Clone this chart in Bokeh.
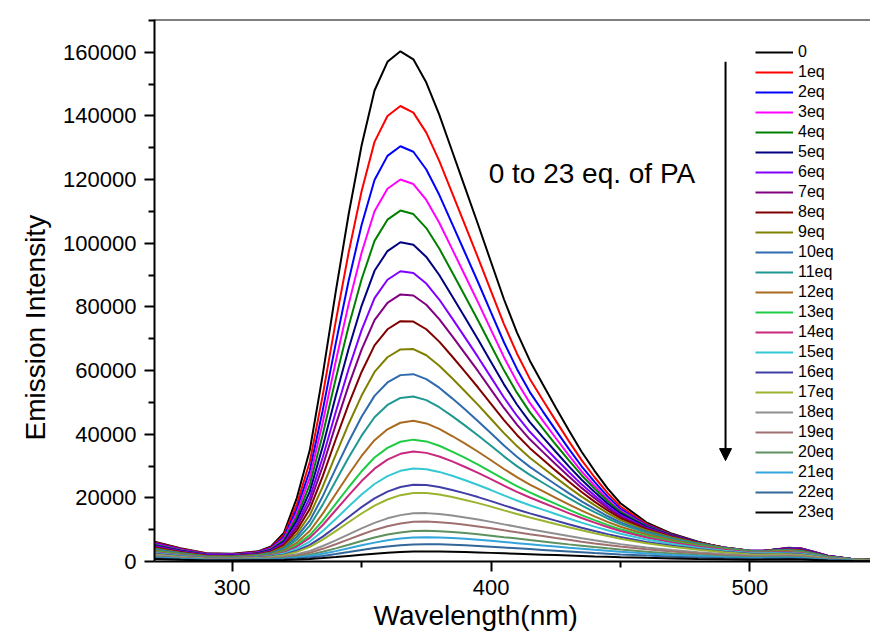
from bokeh.plotting import figure
from bokeh.models import (FixedTicker, BasicTickFormatter, Legend, LegendItem,
                          Arrow, NormalHead, Label, Span, Range1d, Title)
from bokeh.embed import file_html
from bokeh.resources import INLINE

wavelength = [270, 280, 290, 300, 310, 315, 320, 325, 330, 335, 340, 345, 350, 355, 360,
              365, 370, 375, 380, 385, 390, 395, 400, 405, 410, 415, 420, 425, 430, 435,
              440, 445, 450, 460, 470, 480, 490, 500, 505, 510, 515, 520, 525, 530, 540, 550]

eq0 = [6200, 4200, 2600, 2400, 3200, 4700, 9000, 20000, 35000, 58700, 84700, 109100, 130700, 148000, 157000, 160300, 157800, 150500, 140400, 128900, 117400, 105900, 94100, 82400, 72000, 63100, 55700, 48400, 41300, 34500, 28500, 23000, 18300, 12300, 8700, 6200, 4100, 3000, 3100, 3800, 4300, 4100, 3000, 1800, 700, 400]
eq1 = [5960, 4040, 2500, 2310, 3040, 4460, 8260, 18040, 31330, 52280, 75350, 97080, 116340, 131850, 140000, 143120, 141050, 134750, 125900, 115760, 105600, 95420, 84960, 74600, 65370, 57370, 50750, 44260, 37910, 31850, 26470, 21530, 17270, 11810, 8460, 6100, 4180, 3110, 3180, 3820, 4270, 4050, 2980, 1800, 710, 400]
eq2 = [5730, 3880, 2400, 2220, 2910, 4220, 7670, 16520, 28590, 47550, 68470, 88190, 105740, 119900, 127450, 130460, 128750, 123160, 115220, 106100, 96930, 87740, 78260, 68890, 60510, 53230, 47190, 41270, 35460, 29920, 25000, 20460, 16540, 11470, 8300, 6040, 4210, 3180, 3230, 3810, 4220, 3980, 2930, 1780, 720, 410]
eq3 = [5490, 3720, 2300, 2130, 2790, 4010, 7180, 15270, 26320, 43650, 62770, 80870, 97000, 110060, 117130, 120030, 118610, 113610, 106430, 98150, 89800, 81420, 72770, 64200, 56510, 49830, 44260, 38800, 33450, 28340, 23790, 19580, 15950, 11180, 8170, 6000, 4240, 3220, 3250, 3780, 4150, 3900, 2880, 1760, 720, 410]
eq4 = [5260, 3560, 2200, 2040, 2680, 3820, 6730, 14090, 24160, 39910, 57340, 73890, 88690, 100740, 107400, 110260, 109160, 104770, 98340, 90880, 83320, 75720, 67870, 60060, 53050, 46930, 41800, 36760, 31830, 27110, 22890, 19000, 15610, 11100, 8200, 6080, 4350, 3320, 3320, 3790, 4120, 3850, 2840, 1760, 730, 420]
eq5 = [5020, 3400, 2110, 1940, 2570, 3620, 6270, 12890, 21990, 36170, 51900, 66870, 80340, 91340, 97540, 100320, 99520, 95700, 90010, 83360, 76590, 69760, 62700, 55660, 49330, 43770, 39090, 34490, 29980, 25670, 21810, 18230, 15100, 10880, 8110, 6070, 4400, 3380, 3350, 3770, 4050, 3770, 2800, 1750, 740, 420]
eq6 = [4790, 3240, 2010, 1850, 2450, 3410, 5820, 11780, 19990, 32750, 46920, 60470, 72700, 82740, 88520, 91200, 90650, 87340, 82310, 76380, 70330, 64200, 57860, 51520, 45800, 40760, 36490, 32300, 28180, 24240, 20700, 17420, 14540, 10590, 7960, 5990, 4390, 3380, 3350, 3710, 3970, 3680, 2740, 1710, 730, 420]
eq7 = [4550, 3080, 1910, 1760, 2330, 3240, 5450, 10880, 18370, 29990, 42930, 55330, 66580, 75840, 81290, 83910, 83570, 80670, 76160, 70830, 65340, 59790, 54010, 48240, 43010, 38390, 34440, 30570, 26770, 23130, 19850, 16790, 14110, 10380, 7850, 5930, 4390, 3390, 3340, 3660, 3880, 3580, 2660, 1680, 720, 410]
eq8 = [4320, 2920, 1810, 1670, 2220, 3050, 5030, 9850, 16530, 26840, 38340, 49430, 59550, 67920, 72970, 75510, 75400, 72970, 69080, 64410, 59580, 54670, 49560, 44430, 39760, 35620, 32060, 28550, 25110, 21820, 18830, 16060, 13600, 10120, 7710, 5870, 4370, 3390, 3330, 3590, 3780, 3470, 2600, 1640, 720, 410]
eq9 = [4080, 2760, 1710, 1580, 2100, 2850, 4600, 8770, 14600, 23520, 33520, 43210, 52130, 59570, 64180, 66620, 66740, 64800, 61530, 57570, 53430, 49200, 44780, 40330, 36260, 32620, 29470, 26360, 23300, 20370, 17700, 15210, 13000, 9800, 7530, 5780, 4350, 3390, 3310, 3530, 3690, 3380, 2520, 1610, 710, 400]
eq10 = [3840, 2600, 1610, 1490, 1970, 2650, 4180, 7780, 12840, 20530, 29180, 37640, 45470, 52040, 56250, 58560, 58860, 57320, 54610, 51260, 47730, 44100, 40300, 36440, 32900, 29720, 26930, 24190, 21480, 18890, 16520, 14290, 12310, 9370, 7260, 5610, 4250, 3330, 3240, 3440, 3560, 3250, 2440, 1570, 690, 400]
eq11 = [3610, 2440, 1510, 1400, 1860, 2470, 3800, 6900, 11270, 17870, 25320, 32660, 39530, 45340, 49190, 51410, 51870, 50700, 48480, 45690, 42690, 39600, 36360, 33040, 29970, 27200, 24740, 22310, 19920, 17620, 15500, 13520, 11740, 9040, 7040, 5470, 4190, 3280, 3180, 3340, 3430, 3130, 2350, 1520, 680, 390]
eq12 = [3370, 2280, 1410, 1310, 1740, 2270, 3410, 5950, 9590, 15030, 21210, 27350, 33160, 38120, 41540, 43600, 44200, 43390, 41670, 39430, 37020, 34490, 31820, 29070, 26530, 24180, 22090, 20020, 17960, 16000, 14180, 12460, 10910, 8500, 6670, 5210, 4030, 3180, 3080, 3200, 3280, 2970, 2240, 1450, 650, 380]
eq13 = [3140, 2130, 1320, 1210, 1620, 2090, 3060, 5210, 8300, 12860, 18100, 23330, 28340, 32660, 35710, 37630, 38290, 37740, 36370, 34550, 32530, 30430, 28190, 25880, 23710, 21700, 19880, 18090, 16300, 14590, 12990, 11490, 10110, 7950, 6280, 4940, 3830, 3040, 2930, 3030, 3100, 2800, 2110, 1370, 620, 350]
eq14 = [2900, 1970, 1220, 1120, 1490, 1930, 2800, 4700, 7430, 11460, 16100, 20770, 25270, 29160, 32000, 33830, 34540, 34130, 33000, 31440, 29690, 27850, 25880, 23830, 21900, 20120, 18470, 16830, 15220, 13670, 12210, 10850, 9590, 7560, 5990, 4710, 3660, 2900, 2790, 2880, 2920, 2640, 1990, 1290, 600, 340]
eq15 = [2670, 1810, 1120, 1030, 1370, 1750, 2480, 4030, 6280, 9570, 13380, 17260, 21030, 24350, 26830, 28490, 29220, 29000, 28150, 26940, 25540, 24050, 22450, 20770, 19180, 17680, 16290, 14910, 13530, 12220, 10970, 9800, 8700, 6920, 5510, 4360, 3410, 2710, 2610, 2670, 2710, 2440, 1850, 1200, 550, 310]
eq16 = [2430, 1650, 1020, 940, 1250, 1560, 2160, 3380, 5210, 7810, 10860, 13990, 17080, 19810, 21940, 23400, 24110, 24030, 23410, 22490, 21410, 20240, 18970, 17630, 16360, 15130, 13980, 12850, 11700, 10620, 9590, 8600, 7690, 6160, 4930, 3910, 3090, 2470, 2380, 2440, 2480, 2230, 1690, 1100, 500, 290]
eq17 = [2190, 1490, 920, 850, 1130, 1420, 1950, 3030, 4610, 6890, 9560, 12330, 15080, 17530, 19480, 20840, 21550, 21530, 21050, 20270, 19350, 18340, 17240, 16070, 14940, 13850, 12830, 11800, 10780, 9810, 8870, 7990, 7150, 5740, 4600, 3660, 2890, 2300, 2210, 2260, 2270, 2050, 1550, 1020, 470, 270]
eq18 = [1960, 1330, 820, 760, 980, 1180, 1550, 2270, 3340, 4860, 6640, 8530, 10430, 12150, 13560, 14570, 15130, 15200, 14920, 14440, 13840, 13180, 12450, 11670, 10900, 10160, 9440, 8730, 8010, 7330, 6670, 6040, 5460, 4430, 3590, 2890, 2320, 1880, 1840, 1900, 1940, 1760, 1320, 860, 390, 230]
eq19 = [1720, 1170, 720, 670, 860, 1030, 1330, 1900, 2770, 3980, 5420, 6950, 8500, 9920, 11100, 11970, 12470, 12560, 12370, 12000, 11530, 11000, 10430, 9800, 9180, 8580, 7990, 7390, 6810, 6240, 5690, 5180, 4680, 3830, 3110, 2510, 2020, 1640, 1600, 1670, 1700, 1540, 1160, 750, 340, 190]
eq20 = [1490, 1010, 620, 580, 740, 870, 1100, 1520, 2160, 3060, 4130, 5280, 6460, 7530, 8460, 9140, 9560, 9650, 9530, 9270, 8930, 8550, 8120, 7650, 7200, 6730, 6290, 5840, 5380, 4960, 4540, 4140, 3750, 3080, 2520, 2050, 1660, 1370, 1340, 1400, 1430, 1300, 980, 630, 290, 170]
eq21 = [1250, 850, 530, 480, 620, 730, 900, 1230, 1740, 2430, 3260, 4160, 5090, 5930, 6670, 7230, 7570, 7650, 7560, 7370, 7110, 6820, 6490, 6130, 5770, 5410, 5050, 4700, 4340, 4010, 3680, 3360, 3050, 2510, 2070, 1690, 1370, 1130, 1120, 1170, 1200, 1090, 820, 520, 240, 140]
eq22 = [1020, 690, 430, 390, 490, 560, 690, 920, 1270, 1750, 2340, 2960, 3620, 4220, 4730, 5130, 5380, 5440, 5390, 5260, 5080, 4870, 4650, 4400, 4140, 3890, 3640, 3390, 3140, 2900, 2660, 2450, 2230, 1850, 1520, 1250, 1040, 860, 860, 910, 950, 860, 640, 420, 180, 110]
eq23 = [780, 530, 330, 300, 370, 410, 480, 610, 800, 1070, 1390, 1750, 2110, 2450, 2740, 2970, 3110, 3150, 3120, 3050, 2950, 2840, 2710, 2570, 2430, 2290, 2150, 2010, 1870, 1740, 1600, 1480, 1360, 1140, 960, 800, 680, 580, 590, 640, 680, 630, 470, 300, 130, 70]

series = [eq0, eq1, eq2, eq3, eq4, eq5, eq6, eq7, eq8, eq9, eq10, eq11, eq12,
          eq13, eq14, eq15, eq16, eq17, eq18, eq19, eq20, eq21, eq22, eq23]

labels = ["0", "1eq", "2eq", "3eq", "4eq", "5eq", "6eq", "7eq", "8eq", "9eq", "10eq",
          "11eq", "12eq", "13eq", "14eq", "15eq", "16eq", "17eq", "18eq", "19eq",
          "20eq", "21eq", "22eq", "23eq"]

colors = ["#000000", "#FF0000", "#0000FF", "#FF00FF", "#008000", "#000080", "#8000FF",
          "#800080", "#800000", "#808000", "#2E6AAD", "#1F9791", "#A86A20", "#1ECC44",
          "#C8287E", "#33C8D4", "#3F3FA6", "#9AB42E", "#8F8F8F", "#A07070", "#5E9060",
          "#33A4DC", "#336699", "#000000"]

x_ticks = [300, 400, 500]
x_minor = [250, 350, 450, 550]
y_ticks = [0, 20000, 40000, 60000, 80000, 100000, 120000, 140000, 160000]
y_minor = [10000, 30000, 50000, 70000, 90000, 110000, 130000, 150000, 170000]

FONT = "Liberation Sans"

p = figure(width=870, height=638, x_range=Range1d(270, 546.6), y_range=Range1d(0, 170300),
           output_backend="svg", toolbar_location=None,
           min_border_left=154, min_border_right=0, min_border_top=19, min_border_bottom=77)
p.outline_line_color = None
p.xgrid.visible = False
p.ygrid.visible = False

renderers = []
for vals, col in zip(series, colors):
    r = p.line(wavelength, vals, line_color=col, line_width=2)
    renderers.append(r)

p.xaxis.ticker = FixedTicker(ticks=x_ticks, minor_ticks=x_minor)
p.yaxis.ticker = FixedTicker(ticks=y_ticks, minor_ticks=y_minor)
p.yaxis.formatter = BasicTickFormatter(use_scientific=False)

for ax in (p.xaxis[0], p.yaxis[0]):
    ax.axis_line_width = 2
    ax.axis_line_color = "black"
    ax.major_tick_line_width = 2
    ax.minor_tick_line_width = 2
    ax.major_tick_out = 10
    ax.major_tick_in = 0
    ax.minor_tick_out = 6
    ax.minor_tick_in = 0
    ax.major_label_text_font = FONT
    ax.major_label_text_font_size = "22px"
    ax.major_label_text_color = "black"
    ax.major_label_standoff = 8

p.add_layout(Span(location=170300, dimension="width", line_color="black", line_width=2))

# axis titles as side-panel titles (so they can be offset like the original)
p.add_layout(Title(text="Wavelength(nm)", align="left", offset=219, standoff=0,
                   text_font=FONT, text_font_size="28px", text_font_style="normal",
                   text_color="black"), "below")
p.add_layout(Title(text="Emission Intensity", align="left", offset=121, standoff=19,
                   text_font=FONT, text_font_size="28px", text_font_style="normal",
                   text_color="black"), "left")

items = [LegendItem(label=lab, renderers=[r]) for lab, r in zip(labels, renderers)]
legend = Legend(items=items, location=(601, 39), padding=0, margin=0, spacing=0,
                glyph_width=38, glyph_height=20, label_height=20, label_standoff=5,
                label_text_font=FONT, label_text_font_size="16px", label_text_color="black",
                border_line_color=None, background_fill_alpha=0)
p.add_layout(legend)

p.add_layout(Arrow(end=NormalHead(size=12, fill_color="black", line_color="black", line_width=1),
                   x_start=490.6, y_start=157000, x_end=490.6, y_end=31700,
                   line_color="black", line_width=2))

p.add_layout(Label(x=399.1, y=121800, text="0 to 23 eq. of PA", text_font=FONT,
                   text_font_size="28px", text_color="black", text_baseline="alphabetic"))

open("out.html", "w").write(file_html(p, INLINE))
